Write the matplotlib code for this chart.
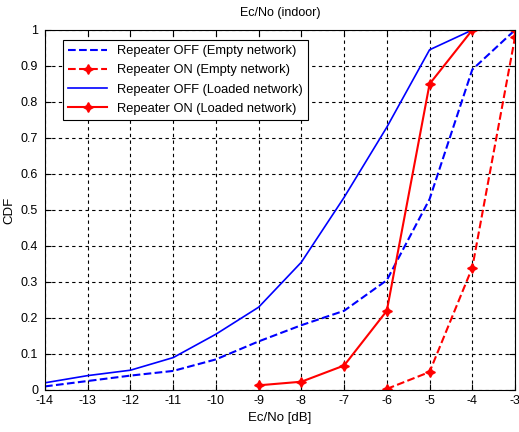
import numpy as np
import matplotlib
matplotlib.use("Agg")
import matplotlib.pyplot as plt

plt.rcParams['font.family'] = ['Liberation Sans', 'DejaVu Sans']
plt.rcParams['axes.unicode_minus'] = False

x_off = [-14, -13, -12, -11, -10, -9, -8, -7, -6, -5, -4, -3]
off_empty = [0.01, 0.025, 0.04, 0.053, 0.085, 0.135, 0.18, 0.22, 0.305, 0.53, 0.89, 1.0]
x_off_loaded = [-14, -13, -12, -11, -10, -9, -8, -7, -6, -5, -4]
off_loaded = [0.02, 0.04, 0.055, 0.09, 0.155, 0.23, 0.355, 0.535, 0.73, 0.945, 1.0]
x_on_empty = [-6, -5, -4, -3]
on_empty = [0.003, 0.05, 0.34, 0.98]
x_on_loaded = [-9, -8, -7, -6, -5, -4, -3]
on_loaded = [0.013, 0.023, 0.068, 0.22, 0.85, 1.0, 1.0]

xticks = list(range(-14, -2))
yticks = [0, 0.1, 0.2, 0.3, 0.4, 0.5, 0.6, 0.7, 0.8, 0.9, 1]
ytick_labels = ['0', '0.1', '0.2', '0.3', '0.4', '0.5', '0.6', '0.7', '0.8', '0.9', '1']

fig = plt.figure(figsize=(5.19, 4.32), dpi=100)
ax = fig.add_axes([45/519, 42/432, 470/519, 360/432])

star = (4, 1, 0)
ax.plot(x_off, off_empty, 'b--', lw=1.5, label='Repeater OFF (Empty network)')
ax.plot(x_on_empty, on_empty, 'r--', lw=1.5, marker=star, ms=7, label='Repeater ON (Empty network)')
ax.plot(x_off_loaded, off_loaded, 'b-', lw=1.2, label='Repeater OFF (Loaded network)')
ax.plot(x_on_loaded, on_loaded, 'r-', lw=1.5, marker=star, ms=7, label='Repeater ON (Loaded network)')

ax.set_xlim(-14, -3)
ax.set_ylim(0, 1)
ax.set_xticks(xticks)
ax.set_yticks(yticks)
ax.set_yticklabels(ytick_labels)
ax.tick_params(direction='in', labelsize=9, length=4, top=True, right=True)
ax.tick_params(axis='y', pad=5)
ax.grid(True, color='black', linestyle=(0, (3, 3)), linewidth=0.8)
ax.set_axisbelow(True)
for s in ax.spines.values():
    s.set_linewidth(0.8)

ax.set_title('Ec/No (indoor)', fontsize=9, pad=10)
ax.set_xlabel('Ec/No [dB]', fontsize=9.5)
ax.set_ylabel('CDF', fontsize=9.5)

leg = ax.legend(loc='upper left', bbox_to_anchor=(18/470, 1 - 10/360), borderaxespad=0,
                fontsize=9.3, fancybox=False, edgecolor='black',
                framealpha=1, handlelength=3.0, labelspacing=0.55)
leg.get_frame().set_linewidth(0.8)

fig.savefig('out.png', dpi=100)
